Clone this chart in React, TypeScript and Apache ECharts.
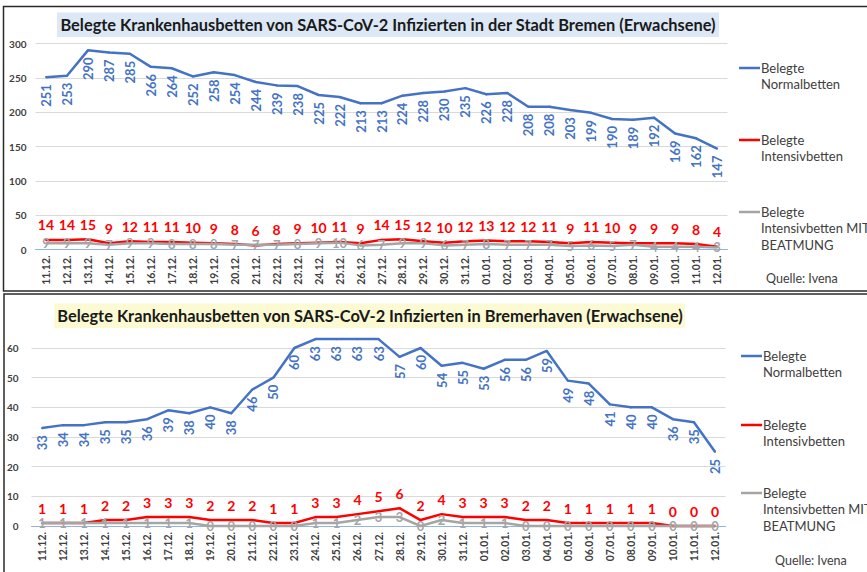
import React, { useEffect, useRef } from "react";
import * as echarts from "echarts";

const dates = [
  "11.12.", "12.12.", "13.12.", "14.12.", "15.12.", "16.12.", "17.12.", "18.12.", "19.12.", "20.12.",
  "21.12.", "22.12.", "23.12.", "24.12.", "25.12.", "26.12.", "27.12.", "28.12.", "29.12.", "30.12.",
  "31.12.", "01.01.", "02.01.", "03.01.", "04.01.", "05.01.", "06.01.", "07.01.", "08.01.", "09.01.",
  "10.01.", "11.01.", "12.01.",
];

const bremenNormal = [251, 253, 290, 287, 285, 266, 264, 252, 258, 254, 244, 239, 238, 225, 222, 213, 213, 224, 228, 230, 235, 226, 228, 208, 208, 203, 199, 190, 189, 192, 169, 162, 147];
const bremenIntensiv = [14, 14, 15, 9, 12, 11, 11, 10, 9, 8, 6, 8, 9, 10, 11, 9, 14, 15, 12, 10, 12, 13, 12, 12, 11, 9, 11, 10, 9, 9, 9, 8, 4];
const bremenBeatmung = [9, 9, 9, 7, 9, 9, 8, 8, 8, 7, 7, 7, 8, 9, 10, 6, 7, 9, 9, 6, 7, 8, 7, 7, 7, 5, 6, 5, 7, 4, 4, 4, 3];

const bhvNormal = [33, 34, 34, 35, 35, 36, 39, 38, 40, 38, 46, 50, 60, 63, 63, 63, 63, 57, 60, 54, 55, 53, 56, 56, 59, 49, 48, 41, 40, 40, 36, 35, 25];
const bhvIntensiv = [1, 1, 1, 2, 2, 3, 3, 3, 2, 2, 2, 1, 1, 3, 3, 4, 5, 6, 2, 4, 3, 3, 3, 2, 2, 1, 1, 1, 1, 1, 0, 0, 0];
const bhvBeatmung = [1, 1, 1, 1, 1, 1, 1, 1, 0, 0, 0, 0, 0, 1, 1, 2, 3, 3, 0, 2, 1, 1, 1, 0, 0, 0, 0, 0, 0, 0, 0, 0, 0];

const titleBremen = "Belegte Krankenhausbetten von SARS-CoV-2 Infizierten in der Stadt Bremen (Erwachsene)";
const titleBhv = "Belegte Krankenhausbetten von SARS-CoV-2 Infizierten in Bremerhaven (Erwachsene)";
const legendNames = ["Belegte\nNormalbetten", "Belegte\nIntensivbetten", "Belegte\nIntensivbetten MIT\nBEATMUNG"];
const source = "Quelle: Ivena";

const FONT = "Lato, 'Open Sans', sans-serif";
const BLUE = "#4472c4";
const RED = "#ff0000";
const GRAY = "#a5a5a5";

export default function App() {
  const ref = useRef<HTMLDivElement>(null);

  useEffect(() => {
    const chart = echarts.init(ref.current!, null, { renderer: "svg" });

    const blueLabel = {
      show: true,
      position: "bottom",
      distance: 6,
      rotate: 90,
      align: "right",
      verticalAlign: "middle",
      color: BLUE,
      fontWeight: "bold",
      fontSize: 13,
      fontFamily: FONT,
    };
    const redLabel = {
      show: true,
      position: "top",
      distance: 7,
      color: RED,
      fontWeight: "bold",
      fontSize: 14,
      fontFamily: FONT,
    };
    const grayLabel = {
      show: true,
      position: "inside",
      color: GRAY,
      fontWeight: "bold",
      fontSize: 13,
      fontFamily: FONT,
    };

    const mk = (name: string, data: number[], idx: number, color: string, label: any) => ({
      name,
      type: "line",
      xAxisIndex: idx,
      yAxisIndex: idx,
      data,
      smooth: false,
      clip: false,
      symbol: "circle",
      symbolSize: 2,
      showSymbol: true,
      itemStyle: { color },
      lineStyle: { color, width: 2.5 },
      label,
      emphasis: { disabled: true },
    });

    const xAxisBase = (gridIndex: number) => ({
      type: "category",
      gridIndex,
      data: dates,
      boundaryGap: true,
      axisTick: { show: false },
      axisLine: { show: true, lineStyle: { color: "#8eb4e3", width: 1 } },
      axisLabel: {
        interval: 0,
        rotate: 90,
        fontSize: 10.5,
        fontWeight: "bold",
        color: "#404040",
        fontFamily: FONT,
        margin: 6,
      },
    });

    const yAxisBase = (gridIndex: number, max: number, interval: number, margin: number) => ({
      type: "value",
      gridIndex,
      min: 0,
      max,
      interval,
      axisLine: { show: false },
      axisTick: { show: false },
      splitLine: { lineStyle: { color: "#d9d9d9", width: 1 } },
      axisLabel: { fontSize: 10, fontWeight: "bold", color: "#404040", fontFamily: FONT, margin },
    });

    const legendBlock = (x: number, ys: number[], quelleX: number, quelleY: number) => {
      const colors = [BLUE, RED, GRAY];
      const els: any[] = [];
      ys.forEach((y, i) => {
        els.push({
          type: "line",
          shape: { x1: x, y1: y, x2: x + 21, y2: y },
          style: { stroke: colors[i], lineWidth: 2.5 },
        });
        els.push({
          type: "text",
          x: x + 22,
          y: y - 8.5,
          style: {
            text: legendNames[i],
            fill: "#404040",
            font: `13px ${FONT}`,
            lineHeight: 16.5,
            align: "left",
            verticalAlign: "top",
          },
        });
      });
      els.push({
        type: "text",
        x: quelleX,
        y: quelleY,
        style: { text: source, fill: "#404040", font: `12.5px ${FONT}`, align: "left", verticalAlign: "middle" },
      });
      return els;
    };

    const titleStyle = { fontFamily: FONT, fontWeight: "bold", fontSize: 16.4, color: "#1a1a1a", lineHeight: 20 };

    const option: any = {
      animation: false,
      backgroundColor: "#ffffff",
      title: [
        { text: titleBremen, left: 388, top: 14.5, textAlign: "center", padding: 0, textStyle: titleStyle },
        { text: titleBhv, left: 370, top: 305.5, textAlign: "center", padding: 0, textStyle: titleStyle },
      ],
      graphic: [
        {
          type: "rect",
          z: -10,
          shape: { x: 3.5, y: 6.5, width: 900, height: 284.5 },
          style: { fill: "none", stroke: "#2a2a2a", lineWidth: 1.5 },
        },
        {
          type: "rect",
          z: -10,
          shape: { x: 4, y: 294, width: 900, height: 300 },
          style: { fill: "none", stroke: "#2a2a2a", lineWidth: 1.5 },
        },
        {
          type: "rect",
          z: -5,
          shape: { x: 57, y: 12.5, width: 662, height: 24.5 },
          style: { fill: "#dce8f5" },
        },
        {
          type: "rect",
          z: -5,
          shape: { x: 54, y: 303.5, width: 631, height: 24.5 },
          style: { fill: "#fcfad2" },
        },
        ...legendBlock(739, [68, 140, 212], 766, 278),
        ...legendBlock(741, [356, 425, 493], 775, 560),
      ],
      grid: [
        { left: 35.5, top: 43.5, width: 692, height: 206 },
        { left: 31.5, top: 348, width: 694, height: 178 },
      ],
      xAxis: [xAxisBase(0), xAxisBase(1)],
      yAxis: [yAxisBase(0, 300, 50, 9), yAxisBase(1, 60, 10, 13)],
      series: [
        mk("Belegte Normalbetten", bremenNormal, 0, BLUE, blueLabel),
        mk("Belegte Intensivbetten", bremenIntensiv, 0, RED, redLabel),
        mk("Belegte Intensivbetten MIT BEATMUNG", bremenBeatmung, 0, GRAY, grayLabel),
        mk("Belegte Normalbetten", bhvNormal, 1, BLUE, blueLabel),
        mk("Belegte Intensivbetten", bhvIntensiv, 1, RED, redLabel),
        mk("Belegte Intensivbetten MIT BEATMUNG", bhvBeatmung, 1, GRAY, grayLabel),
      ],
    };

    chart.setOption(option);
    return () => chart.dispose();
  }, []);

  return (
    <div
      ref={ref}
      style={{ position: "absolute", left: 0, top: 0, width: 867, height: 572, background: "#fff" }}
    />
  );
}
